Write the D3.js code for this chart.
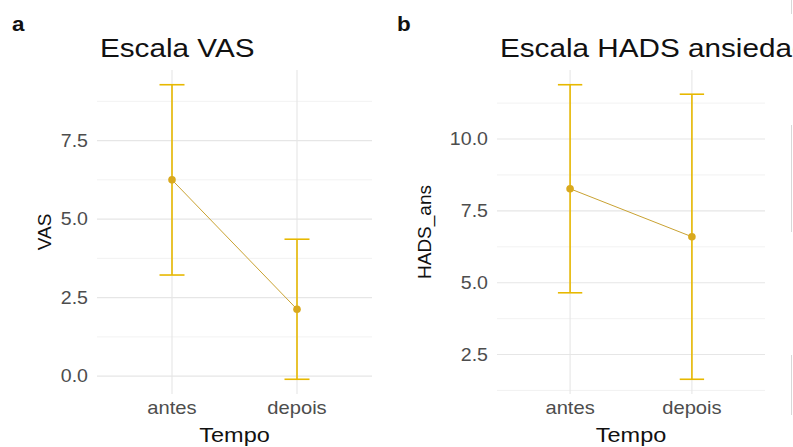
<!DOCTYPE html>
<html>
<head>
<meta charset="utf-8">
<script src="https://cdn.jsdelivr.net/npm/d3@7"></script>
<style>
  html, body { margin: 0; padding: 0; background: #fff; }
  svg { display: block; font-family: "Liberation Sans", Arial, sans-serif; }
</style>
</head>
<body>
<svg id="chart" width="793" height="447"></svg>
<script>
// ---- data ----
const categories = ["antes", "depois"];
const vasMean = [6.25, 2.13];
const vasSD = [3.03, 2.23];
const hadsMean = [8.27, 6.60];
const hadsSD = [3.62, 4.96];
const vasTicks = [0, 2.5, 5, 7.5];
const vasMinor = [1.25, 3.75, 6.25, 8.75];
const hadsTicks = [2.5, 5, 7.5, 10];
const hadsMinor = [1.25, 3.75, 6.25, 8.75, 11.25];

const svg = d3.select("#chart");
svg.append("rect").attr("width", 793).attr("height", 447).attr("fill", "#fff");

const errColor = "#E7B800";
const lineColor = "#C9A232";
const pointColor = "#D9A91E";
const SX = 1.12; // horizontal stretch of the reference's text

function hText(g, x, y, size, txt, anchor, fill, extra) {
  const t = g.append("text")
    .attr("transform", `translate(${x},${y}) scale(${SX},1)`)
    .attr("text-anchor", anchor).attr("font-size", size).attr("fill", fill)
    .text(txt);
  if (extra) extra(t);
  return t;
}

function panel(opts) {
  const g = svg.append("g");
  const lo = opts.mean.map((m, i) => m - opts.sd[i]);
  const hi = opts.mean.map((m, i) => m + opts.sd[i]);
  const dmin = d3.min(lo), dmax = d3.max(hi);
  const pad = (dmax - dmin) * 0.05;
  const y = d3.scaleLinear().domain([dmin - pad, dmax + pad]).range([opts.bottom, opts.top]);
  const x = d3.scalePoint().domain(categories).range([opts.left, opts.right]).padding(0.6);

  // grid
  g.selectAll(".minor").data(opts.minor.filter(v => v >= y.domain()[0] && v <= y.domain()[1]))
    .enter().append("line")
    .attr("x1", opts.left).attr("x2", opts.right)
    .attr("y1", d => y(d)).attr("y2", d => y(d))
    .attr("stroke", "#EFEFEF").attr("stroke-width", 0.8);
  g.selectAll(".major").data(opts.ticks)
    .enter().append("line")
    .attr("x1", opts.left).attr("x2", opts.right)
    .attr("y1", d => y(d)).attr("y2", d => y(d))
    .attr("stroke", "#E6E6E6").attr("stroke-width", 1.1);
  g.selectAll(".vgrid").data(categories)
    .enter().append("line")
    .attr("x1", d => x(d)).attr("x2", d => x(d))
    .attr("y1", opts.top).attr("y2", opts.bottom)
    .attr("stroke", "#E6E6E6").attr("stroke-width", 1.1);

  // y tick labels
  opts.ticks.forEach(d => {
    hText(g, opts.left - 9, y(d), 17.5, d3.format(".1f")(d), "end", "#4D4D4D", t => t.attr("dy", "0.35em"));
  });
  // x tick labels
  categories.forEach(d => {
    hText(g, x(d), 414, 18, d, "middle", "#4D4D4D");
  });

  // axis titles
  hText(g, (opts.left + opts.right) / 2, 442, 21, "Tempo", "middle", "#111");
  g.append("text")
    .attr("transform", `translate(${opts.ytitleX},${(opts.top + opts.bottom) / 2}) rotate(-90)`)
    .attr("text-anchor", "middle").attr("font-size", 19).attr("fill", "#111")
    .text(opts.ylab);

  // title
  hText(g, opts.left + 3, 57, 26.5, opts.title, "start", "#111");
  // panel tag
  hText(g, opts.tagX, 31, 20, opts.tag, "start", "#111", t => t.attr("font-weight", "bold"));

  // connecting line
  const line = d3.line().x((d, i) => x(categories[i])).y(d => y(d));
  g.append("path").datum(opts.mean).attr("d", line)
    .attr("fill", "none").attr("stroke", lineColor).attr("stroke-width", 1);

  // error bars
  const cap = x.step() * 0.1;
  categories.forEach((c, i) => {
    const cx = x(c);
    g.append("line").attr("x1", cx).attr("x2", cx).attr("y1", y(lo[i])).attr("y2", y(hi[i]))
      .attr("stroke", errColor).attr("stroke-width", 1.6);
    [lo[i], hi[i]].forEach(v => {
      g.append("line").attr("x1", cx - cap).attr("x2", cx + cap).attr("y1", y(v)).attr("y2", y(v))
        .attr("stroke", errColor).attr("stroke-width", 1.6);
    });
  });
  // points
  g.selectAll(".pt").data(opts.mean).enter().append("circle")
    .attr("cx", (d, i) => x(categories[i])).attr("cy", d => y(d)).attr("r", 3.8)
    .attr("fill", pointColor);
}

panel({ mean: vasMean, sd: vasSD, ticks: vasTicks, minor: vasMinor,
  left: 97, right: 372, top: 70, bottom: 394, title: "Escala VAS", ylab: "VAS",
  ytitleX: 51, tag: "a", tagX: 12 });
panel({ mean: hadsMean, sd: hadsSD, ticks: hadsTicks, minor: hadsMinor,
  left: 497, right: 765, top: 70, bottom: 394, title: "Escala HADS ansiedade", ylab: "HADS_ans",
  ytitleX: 431, tag: "b", tagX: 397 });

// faint border of neighbouring panel at right edge
[[0, 14], [125, 232], [355, 415]].forEach(s => {
  svg.append("line").attr("x1", 791.5).attr("x2", 791.5).attr("y1", s[0]).attr("y2", s[1])
    .attr("stroke", "#D8D8D8").attr("stroke-width", 1);
});
</script>
</body>
</html>
